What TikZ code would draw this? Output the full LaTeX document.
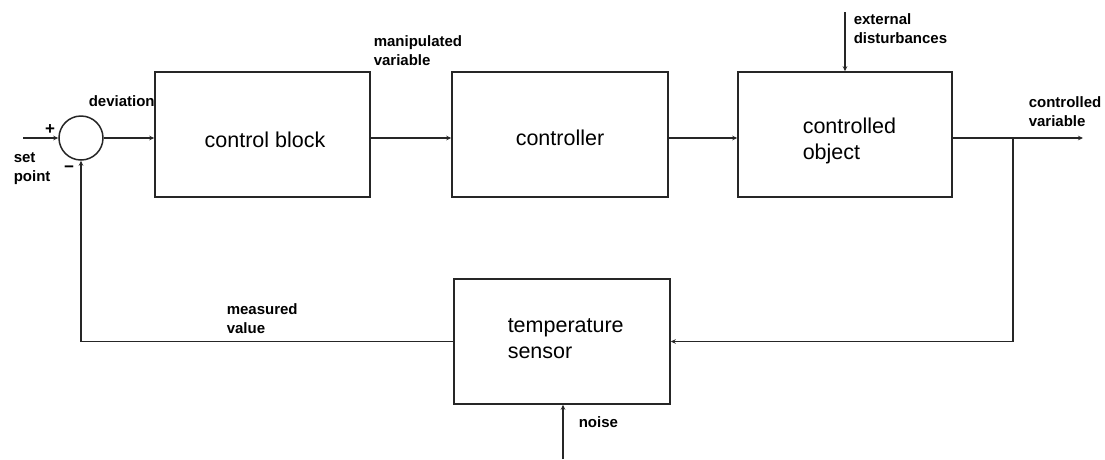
\documentclass[tikz,border=0pt]{standalone}
\usepackage{fontspec}
\setmainfont{Liberation Sans}
\usetikzlibrary{arrows.meta}
\begin{document}
\begin{tikzpicture}[x=1pt,y=-1pt,line width=1.5pt,
  box/.style={draw=black!85, rectangle, inner sep=0pt, minimum height=125pt},
  btxt/.style={font=\fontsize{21.5}{26}\selectfont, inner sep=0pt, align=left},
  lab/.style={font=\bfseries\fontsize{15}{18.5}\selectfont, inner sep=0pt, align=left, anchor=north west},
  sgn/.style={font=\bfseries\fontsize{17}{17}\selectfont, inner sep=0pt},
  arr/.style={draw=black!85, -{Stealth[length=5pt,width=4.5pt]}},
]
\useasboundingbox (0,0) rectangle (1105,459);
% blocks
\node[box, minimum width=215pt] (cb) at (262.5,134.5) {};
\node[box, minimum width=216pt] (ctl) at (560,134.5) {};
\node[box, minimum width=214pt] (obj) at (845,134.5) {};
\node[box, minimum width=216pt] (ts) at (562,341.5) {};
\node[draw=black!85, circle, minimum size=44pt, inner sep=0pt] (sum) at (81,138) {};
% block texts
\node[btxt, anchor=base] (cbt) at (265,147) {control block};
\node[btxt, anchor=base] (ctlt) at (560,145) {controller};
\node[btxt, anchor=north west] (objt) at (802,117) {controlled\\object};
\node[btxt, anchor=north west] (tst) at (507,318) {temperature\\sensor};
% labels
\node[lab] (ldev) at (88,95) {deviation};
\node[lab] (lsp) at (13,152) {set\\point};
\node[lab] (lman) at (373,35) {manipulated\\variable};
\node[lab] (lext) at (853,13) {external\\disturbances};
\node[lab] (lcv) at (1028,96) {controlled\\variable};
\node[lab] (lmv) at (226,303) {measured\\value};
\node[lab] (lnz) at (578,416) {noise};
\node[sgn] (plus) at (50,130) {+};
\node[sgn] (minus) at (69,169) {−};
% free ends
\coordinate (sp) at (23,138);
\coordinate (out) at (1083,138);
\coordinate (br) at (1013,138);
\coordinate (dist) at (845,12);
\coordinate (nz) at (563,459);
% connectors
\draw[arr] (sp) -- (sum.west);
\draw[arr] (sum.east) -- (sum.east -| cb.west);
\draw[arr] (sum.east -| cb.east) -- (sum.east -| ctl.west);
\draw[arr] (sum.east -| ctl.east) -- (sum.east -| obj.west);
\draw[arr] (sum.east -| obj.east) -- (out);
\draw[arr] (br) |- (ts.east);
\draw[arr] (ts.west) -| (sum.south);
\draw[arr] (dist) -- (dist |- obj.north);
\draw[arr] (nz) -- (nz |- ts.south);
\end{tikzpicture}
\end{document}
